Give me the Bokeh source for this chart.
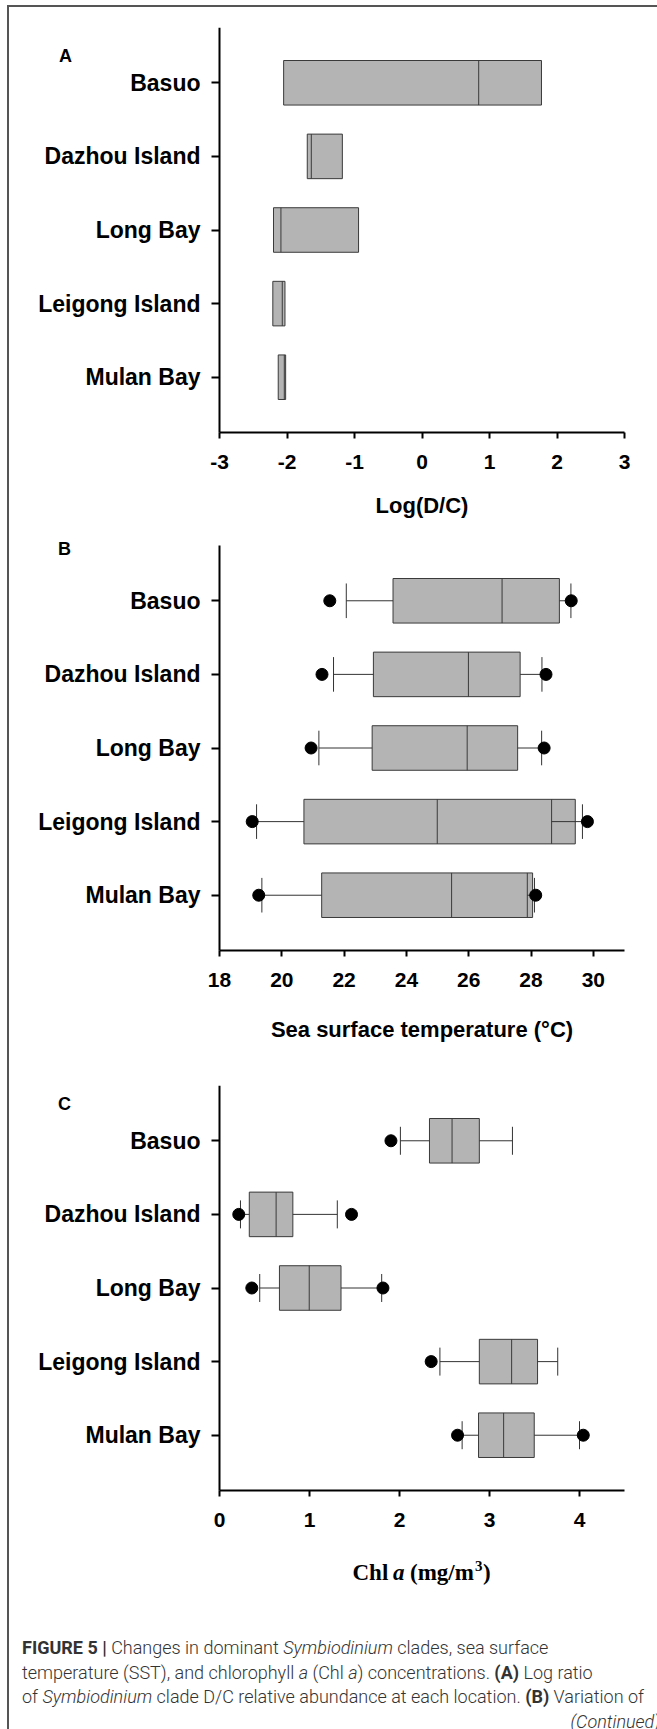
import math
from bokeh.plotting import figure
from bokeh.models import Range1d, FixedTicker, Label, Div
from bokeh.layouts import column
from bokeh.embed import file_html
from bokeh.resources import INLINE

NaN = float("nan")

categories = ["Basuo", "Dazhou Island", "Long Bay", "Leigong Island", "Mulan Bay"]

# Panel A: Log(D/C) boxes (no whiskers)
a_q1 = [-2.05, -1.70, -2.20, -2.21, -2.13]
a_med = [0.84, -1.64, -2.09, -2.07, -2.04]
a_q3 = [1.77, -1.18, -0.94, -2.03, -2.02]
a_ticks = [-3, -2, -1, 0, 1, 2, 3]

# Panel B: sea surface temperature (deg C)
b_out_lo = [21.54, 21.29, 20.94, 19.05, 19.26]
b_w_lo = [22.07, 21.66, 21.19, 19.19, 19.36]
b_q1 = [23.57, 22.94, 22.90, 20.71, 21.28]
b_med = [27.07, 25.99, 25.95, 24.99, 25.45]
b_inner = [NaN, NaN, NaN, 28.66, 27.88]
b_q3 = [28.91, 27.65, 27.57, 29.42, 28.05]
b_w_hi = [29.28, 28.35, 28.34, 29.65, 28.11]
b_out_hi = [29.29, 28.48, 28.42, 29.81, 28.15]
b_ticks = [18, 20, 22, 24, 26, 28, 30]

# Panel C: Chl a (mg/m3)
c_out_lo = [1.905, 0.214, 0.359, 2.352, 2.645]
c_w_lo = [2.01, 0.233, 0.447, 2.449, 2.696]
c_q1 = [2.333, 0.331, 0.666, 2.887, 2.878]
c_med = [2.584, 0.629, 0.997, 3.246, 3.157]
c_q3 = [2.887, 0.815, 1.350, 3.534, 3.497]
c_w_hi = [3.255, 1.309, 1.802, 3.758, 4.0]
c_out_hi = [NaN, 1.467, 1.816, NaN, 4.042]
c_ticks = [0, 1, 2, 3, 4]

ys = list(range(len(categories), 0, -1))

BOX_FILL = "#b4b4b4"
BOX_LINE = "#3a3a3a"
WHISK = "#333333"
SANS = "Liberation Sans"
SERIF = "Liberation Serif"

DATA_W = 405      # px width of the data area
LEFT_PAD = 205    # px of frame left of the y axis (holds labels and panel letter)
RIGHT_PAD = 22    # px of frame right of the data area (room for last tick label)
DATA_H = 405      # px height of the data area
Y_LO, Y_HI = 0.249, len(categories) + 0.751
PX_PER_Y = DATA_H / (Y_HI - Y_LO)


class Panel:
    def __init__(self, xr, ticks, letter, letter_dx, letter_dy, top, extra_top,
                 bottom_pad):
        x0, x1 = xr
        self.x0, self.x1 = x0, x1
        xstart = x0 - (x1 - x0) * LEFT_PAD / DATA_W
        xend = x1 + (x1 - x0) * RIGHT_PAD / DATA_W
        ytop = Y_HI + extra_top / PX_PER_Y
        ybot = Y_LO - bottom_pad / PX_PER_Y
        p = figure(frame_width=LEFT_PAD + DATA_W + RIGHT_PAD,
                   frame_height=DATA_H + extra_top + bottom_pad,
                   x_range=Range1d(xstart, xend), y_range=Range1d(ybot, ytop),
                   min_border_left=5, min_border_right=33 - RIGHT_PAD,
                   min_border_top=top, min_border_bottom=0,
                   output_backend="svg", toolbar_location=None)
        p.outline_line_color = None
        p.xgrid.visible = False
        p.ygrid.visible = False
        p.background_fill_color = "white"
        p.border_fill_color = "white"

        p.yaxis.fixed_location = x0
        p.xaxis.fixed_location = Y_LO
        p.yaxis.bounds = (Y_LO, Y_HI)
        p.xaxis.bounds = (x0, x1)
        p.yaxis.ticker = FixedTicker(ticks=ys)
        p.yaxis.major_label_overrides = {y: c for y, c in zip(ys, categories)}
        p.xaxis.ticker = FixedTicker(ticks=ticks)
        p.xaxis.major_label_overrides = {t: str(t) for t in ticks}
        for ax in (p.xaxis[0], p.yaxis[0]):
            ax.axis_line_width = 2
            ax.axis_line_color = "black"
            ax.major_tick_line_width = 2
            ax.major_tick_line_color = "black"
            ax.major_tick_in = 0
            ax.minor_tick_line_color = None
            ax.major_label_text_font = SANS
            ax.major_label_text_font_style = "bold"
            ax.major_label_text_color = "black"
        p.yaxis.major_tick_out = 8
        p.yaxis.major_label_standoff = 11
        p.yaxis.major_label_text_font_size = "23px"
        p.xaxis.major_tick_out = 6
        p.xaxis.major_label_standoff = 16
        p.xaxis.major_label_text_font_size = "21px"
        self.p = p
        self.text(letter, letter_dx, -letter_dy, size="18px", align="center")

    def px_x(self, dx):
        return self.x0 + dx * (self.x1 - self.x0) / DATA_W

    def text(self, txt, dx, dy_below_top, size="22px", font=SANS, style="bold",
             align="left", from_bottom=False):
        # dx: px from y axis; dy: px below the top of the data area
        # (or below the x axis if from_bottom)
        if from_bottom:
            y = Y_LO - dy_below_top / PX_PER_Y
        else:
            y = Y_HI - dy_below_top / PX_PER_Y
        self.p.add_layout(Label(x=self.px_x(dx), y=y, text=txt, text_font=font,
                                text_font_style=style, text_font_size=size,
                                text_align=align, text_baseline="middle",
                                text_color="black"))


def draw_boxes(p, q1, med, q3, box_h):
    p.hbar(y=ys, left=q1, right=q3, height=box_h, fill_color=BOX_FILL,
           line_color=BOX_LINE, line_width=1)
    p.segment(x0=med, y0=[y - box_h / 2 for y in ys], x1=med,
              y1=[y + box_h / 2 for y in ys], line_color=BOX_LINE, line_width=1)


def draw_whiskers(p, w_lo, q1, hi_start, w_hi, cap_h, out_lo, out_hi):
    p.segment(x0=w_lo, y0=ys, x1=q1, y1=ys, line_color=WHISK, line_width=1)
    p.segment(x0=hi_start, y0=ys, x1=w_hi, y1=ys, line_color=WHISK, line_width=1)
    for w in (w_lo, w_hi):
        p.segment(x0=w, y0=[y - cap_h / 2 for y in ys], x1=w,
                  y1=[y + cap_h / 2 for y in ys], line_color=WHISK, line_width=1)
    p.scatter(x=out_lo, y=ys, size=12, color="black")
    p.scatter(x=out_hi, y=ys, size=12, color="black")


# ---- Panel A
A = Panel((-3, 3), a_ticks, "A", -154, -28, 20, 0, 103)
A.text("Log(D/C)", DATA_W / 2, 73, align="center", from_bottom=True)
draw_boxes(A.p, a_q1, a_med, a_q3, 0.605)

# ---- Panel B
B = Panel((18, 31), b_ticks, "B", -155, -3, 4, 6, 120)
B.text("Sea surface temperature (\u00b0C)", DATA_W / 2, 79, align="center",
       from_bottom=True)
draw_boxes(B.p, b_q1, b_med, b_q3, 0.605)
B.p.segment(x0=b_inner, y0=[y - 0.3025 for y in ys], x1=b_inner,
            y1=[y + 0.3025 for y in ys], line_color=BOX_LINE, line_width=1)
b_hi_start = [q if math.isnan(i) else min(q, i) for q, i in zip(b_q3, b_inner)]
draw_whiskers(B.p, b_w_lo, b_q1, b_hi_start, b_w_hi, 0.47, b_out_lo, b_out_hi)

# ---- Panel C
C = Panel((0, 4.5), c_ticks, "C", -155, -18, 15, 0, 115)
C.text("Chl", 133, 82, size="23px", font=SERIF, from_bottom=True)
C.text("a", 173.5, 82, size="23px", font=SERIF, style="bold italic", from_bottom=True)
C.text("(mg/m", 190.5, 82, size="23px", font=SERIF, from_bottom=True)
C.text("3", 255.5, 75, size="15px", font=SERIF, from_bottom=True)
C.text(")", 263.5, 82, size="23px", font=SERIF, from_bottom=True)
draw_boxes(C.p, c_q1, c_med, c_q3, 0.605)
draw_whiskers(C.p, c_w_lo, c_q1, c_q3, c_w_hi, 0.38, c_out_lo, c_out_hi)

caption_html = (
    '<div style="box-sizing:border-box; padding-left:8px; padding-top:26px; '
    'width:648px; height:124px; overflow:hidden; font-family:Roboto; '
    'font-weight:300; font-size:18px; line-height:24.7px; color:#333; '
    'white-space:nowrap;">'
    '<b style="font-weight:700">FIGURE 5 |</b> Changes in dominant <i>Symbiodinium</i> clades, sea surface<br>'
    'temperature (SST), and chlorophyll <i>a</i> (Chl <i>a</i>) concentrations. '
    '<b style="font-weight:700">(A)</b> Log ratio<br>'
    'of <i>Symbiodinium</i> clade D/C relative abundance at each location. '
    '<b style="font-weight:700">(B)</b> Variation of<br>'
    '<div style="text-align:right; padding-right:2px"><i>(Continued)</i></div>'
    '</div>'
)
cap = Div(text=caption_html, width=648, height=124)

layout = column(A.p, B.p, C.p, cap, spacing=0,
                styles={"margin-left": "7px", "margin-top": "5px",
                        "border-left": "2px solid #555", "border-top": "2px solid #555"})

open("out.html", "w").write(file_html(layout, INLINE))
